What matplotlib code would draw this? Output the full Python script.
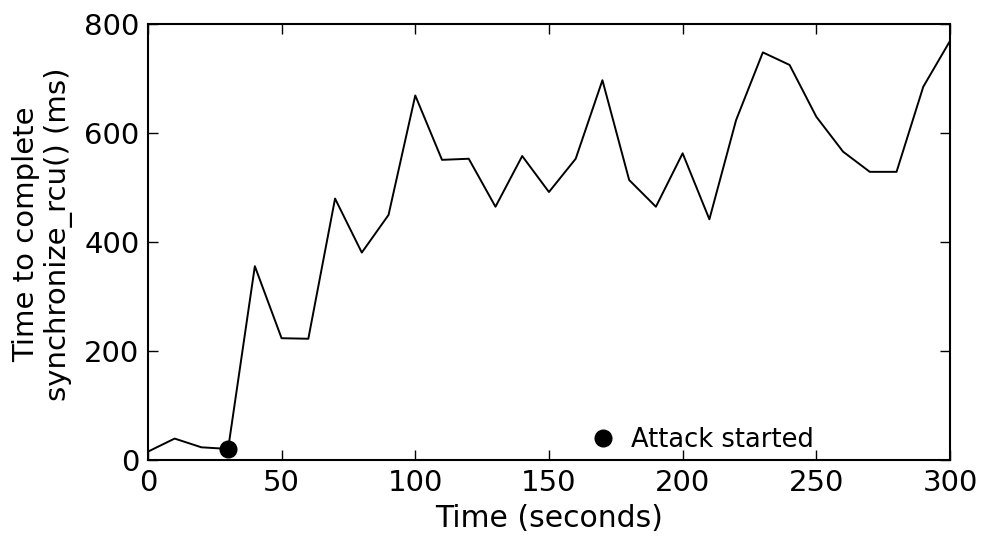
import numpy as np
import matplotlib
matplotlib.use("Agg")
import matplotlib.pyplot as plt

# time in seconds, sampled every 10 s
times = list(range(0, 301, 10))
# time to complete synchronize_rcu() in ms
rcu_ms = [16, 40, 24, 21, 356, 224, 223, 480, 381, 450,
          669, 551, 553, 465, 558, 492, 553, 697, 514, 465,
          563, 442, 624, 748, 725, 630, 566, 529, 529, 685, 769]

attack_time = [30]
attack_ms = [20]

plt.rcParams['font.family'] = ['DejaVu Sans']
plt.rcParams['xtick.direction'] = 'in'
plt.rcParams['ytick.direction'] = 'in'
plt.rcParams['xtick.top'] = True
plt.rcParams['ytick.right'] = True

fig = plt.figure(figsize=(9.86, 5.41), dpi=100)
ax = fig.add_axes([0.150, 0.149, 0.8135, 0.8066])

ax.plot(times, rcu_ms, color='black', linewidth=1.4)
ax.plot(attack_time, attack_ms, 'o', color='black', markersize=12,
        linestyle='none', label='Attack started', clip_on=False)

ax.set_xlim(0, 300)
ax.set_ylim(0, 800)
ax.set_xticks(np.arange(0, 301, 50))
ax.set_yticks(np.arange(0, 801, 200))
ax.tick_params(labelsize=21, length=7, width=1, pad=6)
for s in ax.spines.values():
    s.set_linewidth(1.5)

ax.set_xlabel('Time (seconds)', fontsize=21.5, labelpad=5)
ax.set_ylabel('Time to complete\nsynchronize_rcu() (ms)', fontsize=21)
ax.yaxis.set_label_coords(-0.093, 0.518)

ax.legend(loc='lower left', bbox_to_anchor=(0.529, -0.024), frameon=False,
          numpoints=1, fontsize=18.5, handlelength=1.0, handletextpad=0.6,
          borderaxespad=0.3)

fig.savefig('out.png', dpi=100)
